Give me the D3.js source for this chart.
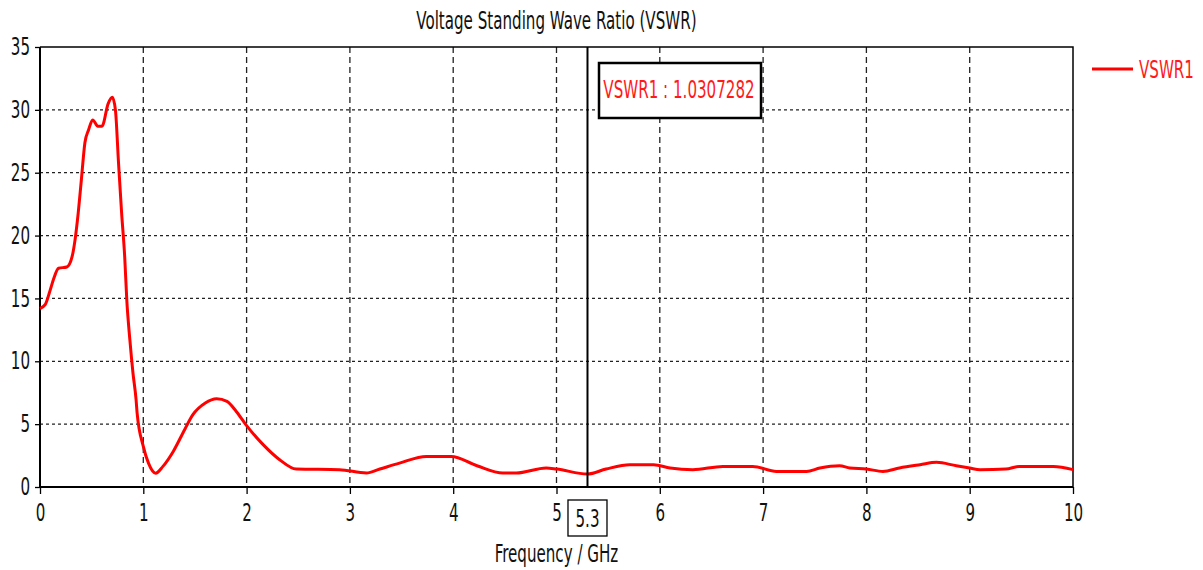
<!DOCTYPE html>
<html>
<head>
<meta charset="utf-8">
<script src="https://cdn.jsdelivr.net/npm/d3@7"></script>
<style>
  body { margin: 0; background: #fff; }
  svg text { font-family: "Liberation Sans Narrow", "DejaVu Sans Condensed", sans-serif; }
</style>
</head>
<body>
<svg id="chart" width="1203" height="570"></svg>
<script>
// frequency (GHz) and VSWR values
const freq = [0, 0.05, 0.1, 0.13, 0.18, 0.26, 0.31, 0.34, 0.37, 0.4, 0.435, 0.47, 0.51, 0.56, 0.6,
  0.66, 0.7, 0.73, 0.76, 0.79, 0.82, 0.84, 0.87, 0.9, 0.93, 0.94, 1.0, 1.05, 1.12, 1.19, 1.29, 1.4, 1.48,
  1.6, 1.71, 1.81, 1.9, 2.0, 2.16, 2.32, 2.48, 2.9, 3.16, 3.29, 3.48, 3.74, 3.98, 4.23, 4.48,
  4.61, 4.9, 5.0, 5.3, 5.48, 5.71, 5.94, 6.1, 6.32, 6.61, 6.9, 7.13, 7.42, 7.55, 7.74, 7.84,
  8.0, 8.16, 8.32, 8.52, 8.68, 8.87, 9.0, 9.1, 9.35, 9.48, 9.81, 10]
const vswr = [14.2, 14.5, 15.7, 16.5, 17.4, 17.5, 18.3, 19.7, 21.8, 24.4, 27.4, 28.4, 29.2, 28.7, 28.7,
  30.5, 31.0, 30.0, 25.8, 21.8, 18.3, 14.9, 11.7, 9.07, 6.95, 5.9, 3.23, 1.9, 1.1, 1.64, 2.83, 4.56, 5.75,
  6.68, 7.02, 6.81, 6.01, 4.88, 3.37, 2.17, 1.43, 1.38, 1.11, 1.43, 1.9, 2.43, 2.43, 1.69, 1.11,
  1.11, 1.51, 1.43, 1.03, 1.43, 1.77, 1.77, 1.51, 1.38, 1.64, 1.64, 1.24, 1.24, 1.51, 1.69, 1.51,
  1.43, 1.24, 1.51, 1.77, 1.96, 1.69, 1.51, 1.38, 1.43, 1.64, 1.64, 1.38]
const xTicks = [0, 1, 2, 3, 4, 5, 6, 7, 8, 9, 10]
const yTicks = [0, 5, 10, 15, 20, 25, 30, 35]
const markerFreq = 5.3
const markerText = 'VSWR1 : 1.0307282'
const seriesName = 'VSWR1'

const svg = d3.select('#chart')
const plotL = 40, plotR = 1073, plotT = 47, plotB = 487
const SX = 0.7 // the source screenshot is squeezed horizontally

const x = d3.scaleLinear().domain([0, 10]).range([plotL, plotR])
const y = d3.scaleLinear().domain([0, 35]).range([plotB, plotT])

// grid
svg.append('g').selectAll('line')
  .data(yTicks.filter(d => d > 0 && d < 35))
  .enter().append('line')
  .attr('x1', plotL).attr('x2', plotR)
  .attr('y1', d => y(d)).attr('y2', d => y(d))
  .attr('stroke', '#222').attr('stroke-width', 1.3)
  .attr('stroke-dasharray', '3,3')

svg.append('g').selectAll('line')
  .data(xTicks.filter(d => d > 0 && d < 10))
  .enter().append('line')
  .attr('x1', d => x(d)).attr('x2', d => x(d))
  .attr('y1', plotT).attr('y2', plotB)
  .attr('stroke', '#222').attr('stroke-width', 1.3)
  .attr('stroke-dasharray', '6,4')

// frame: top and right
svg.append('path')
  .attr('d', `M${plotL},${plotT}H${plotR}V${plotB}`)
  .attr('fill', 'none').attr('stroke', '#000').attr('stroke-width', 1.5)

// axes
const xAxis = svg.append('g')
  .attr('transform', `translate(0,${plotB})`)
  .call(d3.axisBottom(x).tickValues(xTicks).tickSize(7).tickPadding(10))
const yAxis = svg.append('g')
  .attr('transform', `translate(${plotL},0)`)
  .call(d3.axisLeft(y).tickValues(yTicks).tickSize(5).tickPadding(6))

;[xAxis, yAxis].forEach(a => {
  a.select('.domain').attr('stroke', '#000').attr('stroke-width', 2)
  a.selectAll('.tick line').attr('stroke', '#000').attr('stroke-width', 1.3)
  a.selectAll('.tick text')
    .attr('font-size', 24)
    .attr('fill', '#111')
    .attr('font-family', null)
    .attr('transform', `scale(${SX},1)`)
})
xAxis.select('.domain').attr('d', `M${plotL},0H${plotR}`)
yAxis.select('.domain').attr('d', `M0,${plotB}V${plotT}`)
xAxis.selectAll('.tick text').attr('dy', '0.71em')
yAxis.selectAll('.tick text').attr('x', -10 / SX)

// curve
const line = d3.line()
  .x((d, i) => x(freq[i]))
  .y(d => y(d))
  .curve(d3.curveMonotoneX)

svg.append('path')
  .datum(vswr)
  .attr('d', line)
  .attr('fill', 'none')
  .attr('stroke', '#ff0000')
  .attr('stroke-width', 3)
  .attr('stroke-linejoin', 'round')

// marker line
svg.append('line')
  .attr('x1', x(markerFreq)).attr('x2', x(markerFreq))
  .attr('y1', plotT).attr('y2', plotB)
  .attr('stroke', '#000').attr('stroke-width', 2)

// marker value box below the axis
svg.append('rect')
  .attr('x', x(markerFreq) - 19.5).attr('y', 500)
  .attr('width', 39).attr('height', 36)
  .attr('fill', '#fff').attr('stroke', '#000').attr('stroke-width', 1.3)
svg.append('text')
  .attr('transform', `translate(${x(markerFreq)},527) scale(${SX},1)`)
  .attr('text-anchor', 'middle')
  .attr('font-size', 24).attr('fill', '#111')
  .text(markerFreq)

// marker readout
svg.append('rect')
  .attr('x', 599).attr('y', 63).attr('width', 162).attr('height', 55)
  .attr('fill', '#fff').attr('stroke', '#000').attr('stroke-width', 2.5)
svg.append('text')
  .attr('transform', `translate(679,98) scale(${SX},1)`)
  .attr('text-anchor', 'middle')
  .attr('font-size', 24).attr('fill', '#ff1a1a')
  .text(markerText)

// title
svg.append('text')
  .attr('transform', `translate(${(plotL + plotR) / 2},29) scale(${SX},1)`)
  .attr('text-anchor', 'middle')
  .attr('font-size', 24).attr('fill', '#111')
  .text('Voltage Standing Wave Ratio (VSWR)')

// x axis title (cut at the bottom edge like the source)
svg.append('text')
  .attr('transform', `translate(${(plotL + plotR) / 2},562) scale(${SX},1)`)
  .attr('text-anchor', 'middle')
  .attr('font-size', 24).attr('fill', '#111')
  .text('Frequency / GHz')

// legend
svg.append('line')
  .attr('x1', 1092).attr('x2', 1133).attr('y1', 69).attr('y2', 69)
  .attr('stroke', '#ff0000').attr('stroke-width', 3)
svg.append('text')
  .attr('transform', `translate(1139,78) scale(${SX},1)`)
  .attr('font-size', 24).attr('fill', '#ff1a1a')
  .text(seriesName)
</script>
</body>
</html>
